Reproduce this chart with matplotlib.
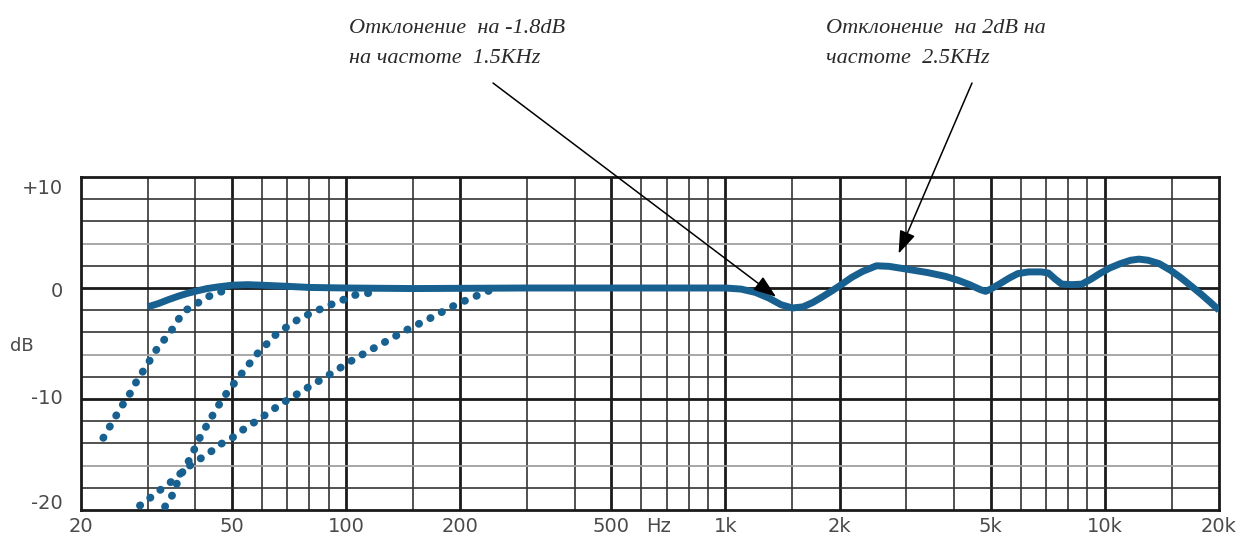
import matplotlib
matplotlib.use("Agg")
import matplotlib.pyplot as plt
from matplotlib.ticker import FixedLocator, NullFormatter
import matplotlib.transforms as mtransforms

# ---- data -------------------------------------------------------------
# main (solid) frequency response, Hz / dB
resp_freq = [30, 32, 34, 36, 38, 40, 43, 46, 50, 55, 60, 70, 80, 100, 150,
             300, 700, 1000, 1100, 1200, 1300, 1400, 1500, 1600, 1700, 1800,
             1900, 2000, 2150, 2300, 2500, 2700, 3000, 3400, 3800, 4100,
             4400, 4700, 4850, 5000, 5300, 5600, 5900, 6300, 6800, 7100,
             7400, 7700, 8200, 8700, 9200, 9700, 10300, 11000, 11700, 12300,
             13000, 13900, 14900, 15900, 17000, 18000, 19000, 20000]
resp_db = [-1.7, -1.4, -1.05, -0.75, -0.5, -0.3, -0.05, 0.1, 0.25, 0.3, 0.25,
           0.15, 0.05, 0.0, -0.05, 0.0, 0.0, 0.0, -0.1, -0.4, -0.9, -1.5,
           -1.8, -1.7, -1.3, -0.8, -0.3, 0.2, 0.95, 1.5, 2.0, 1.95, 1.7, 1.4,
           1.05, 0.7, 0.3, -0.15, -0.3, -0.1, 0.4, 0.9, 1.3, 1.45, 1.45,
           1.35, 0.8, 0.35, 0.3, 0.35, 0.8, 1.3, 1.8, 2.2, 2.5, 2.6, 2.5,
           2.2, 1.6, 0.9, 0.1, -0.6, -1.3, -2.0]

# low-cut filter positions (dotted)
cut1_freq = [22.9, 23.9, 24.9, 26.1, 27.3, 28.3, 29.8, 31.0, 32.6, 34.4,
             35.9, 37.6, 40.2, 42.9, 45.7, 50.0]
cut1_db = [-13.5, -12.4, -11.35, -10.2, -9.2, -8.1, -7.05, -5.95, -4.95,
           -4.0, -2.95, -2.05, -1.45, -0.85, -0.4, -0.15]

cut2_freq = [33.3, 34.9, 35.9, 37.2, 38.8, 40.2, 41.6, 43.4, 45.2, 47.5,
             52.5, 58.2, 65.7, 75.7, 88.9, 105.7, 118.0]
cut2_db = [-19.7, -18.6, -17.5, -16.45, -15.35, -14.2, -13.15, -12.1,
           -11.05, -9.85, -7.9, -5.95, -4.1, -2.7, -1.65, -0.63, -0.4]

cut3_freq = [28.6, 30.7, 32.9, 35.4, 37.6, 40.3, 43.4, 46.5, 50.6, 53.8,
             58.2, 67.0, 77.2, 90.4, 105.0, 123.0, 143.0, 167.0, 196.0,
             230.0, 240.0]
cut3_db = [-19.6, -18.8, -18.0, -17.2, -16.3, -15.6, -14.9, -14.1, -13.4,
           -12.7, -11.95, -10.5, -9.2, -7.8, -6.4, -5.1, -3.85, -2.7, -1.45,
           -0.45, -0.2]

# axis labels
x_tick_vals = [20, 50, 100, 200, 500, 1000, 2000, 5000, 10000, 20000]
x_tick_text = ["20", "50", "100", "200", "500", "1k", "2k", "5k", "10k", "20k"]
x_minor_vals = [30, 40, 60, 70, 80, 90, 150, 300, 400, 600, 700, 800, 900,
                1500, 3000, 4000, 6000, 7000, 8000, 9000, 15000]
y_tick_vals = [10, 0, -10, -20]
y_tick_text = ["+10", "0", "-10", "-20"]

note1_lines = ["Отклонение  на -1.8dB", "на частоте  1.5KHz"]
note2_lines = ["Отклонение  на 2dB на", "частоте  2.5KHz"]
note1_target = (1360, -0.8)
note2_target = (2860, 3.1)

# ---- figure -----------------------------------------------------------
W, H = 1241, 540
fig = plt.figure(figsize=(W / 100, H / 100), dpi=100)
ax = fig.add_axes([81 / W, (H - 510) / H, (1219 - 81) / W, (510 - 177) / H])

ax.set_xscale("log")
ax.set_xlim(20, 20000)
ax.set_ylim(-20, 10)

blue = "#17608f"
label_col = "#4a4a4a"

# grid
grid_major_x = [50, 100, 200, 500, 1000, 2000, 5000, 10000]
for v in x_minor_vals:
    ax.axvline(v, color="#333333", lw=1.2, zorder=1)
for v in grid_major_x:
    ax.axvline(v, color="#1a1a1a", lw=2.0, zorder=1)
for v in range(-18, 10, 2):
    if v in (0, -10):
        ax.axhline(v, color="#1a1a1a", lw=2.0, zorder=1)
    elif v in (4, -6, -16):
        ax.axhline(v, color="#a0a0a0", lw=1.3, zorder=1)
    else:
        ax.axhline(v, color="#333333", lw=1.2, zorder=1)

for s in ax.spines.values():
    s.set_linewidth(2.0)
    s.set_color("#1a1a1a")

# curves
dot_style = dict(color=blue, lw=5.6, linestyle=(0, (0.05, 1.6)),
                 dash_capstyle="round", zorder=3)
ax.plot(cut1_freq, cut1_db, **dot_style)
ax.plot(cut2_freq, cut2_db, **dot_style)
ax.plot(cut3_freq, cut3_db, **dot_style)
ax.plot(resp_freq, resp_db, color=blue, lw=5.0, solid_joinstyle="round",
        solid_capstyle="butt", zorder=4)

# x tick labels
ax.xaxis.set_major_locator(FixedLocator(x_tick_vals))
ax.xaxis.set_minor_locator(FixedLocator(x_minor_vals))
ax.xaxis.set_minor_formatter(NullFormatter())
ax.set_xticklabels(x_tick_text)
ax.tick_params(axis="x", which="both", length=0, pad=5,
               labelsize=14, labelcolor=label_col)
ax.text(667, -20, "Hz", ha="center", va="top", fontsize=14, color=label_col,
        transform=ax.transData + mtransforms.ScaledTranslation(0, -5 / 72, fig.dpi_scale_trans))

# y tick labels
ax.set_yticks([])
ytrans = mtransforms.blended_transform_factory(ax.transAxes, ax.transData)
y_label_pos = [9.0, -0.35, -10.0, -19.4]
for yp, t in zip(y_label_pos, y_tick_text):
    ax.text(-0.016, yp, t, ha="right", va="center", fontsize=14,
            color=label_col, transform=ytrans)
ax.text(10 / W, (H - 346) / H, "dB", ha="left", va="center", fontsize=13,
        color=label_col, transform=fig.transFigure)

# annotations
note_font = dict(family="Liberation Serif", style="italic", fontsize=16,
                 color="#2a2a2a")
for i, line in enumerate(note1_lines):
    fig.text(349 / W, (H - 33 - 30 * i) / H, line, ha="left", va="baseline",
             **note_font)
for i, line in enumerate(note2_lines):
    fig.text(826 / W, (H - 33 - 30 * i) / H, line, ha="left", va="baseline",
             **note_font)

arrow = dict(arrowstyle="-|>,head_length=0.7,head_width=0.25", color="black",
             lw=1.1, shrinkA=0, shrinkB=0, mutation_scale=20)
ax.annotate("", xy=note1_target, xycoords="data",
            xytext=(493, H - 83), textcoords="figure pixels",
            arrowprops=arrow, zorder=6)
ax.annotate("", xy=note2_target, xycoords="data",
            xytext=(972, H - 83), textcoords="figure pixels",
            arrowprops=arrow, zorder=6)

fig.savefig("out.png", dpi=100, facecolor="white")
